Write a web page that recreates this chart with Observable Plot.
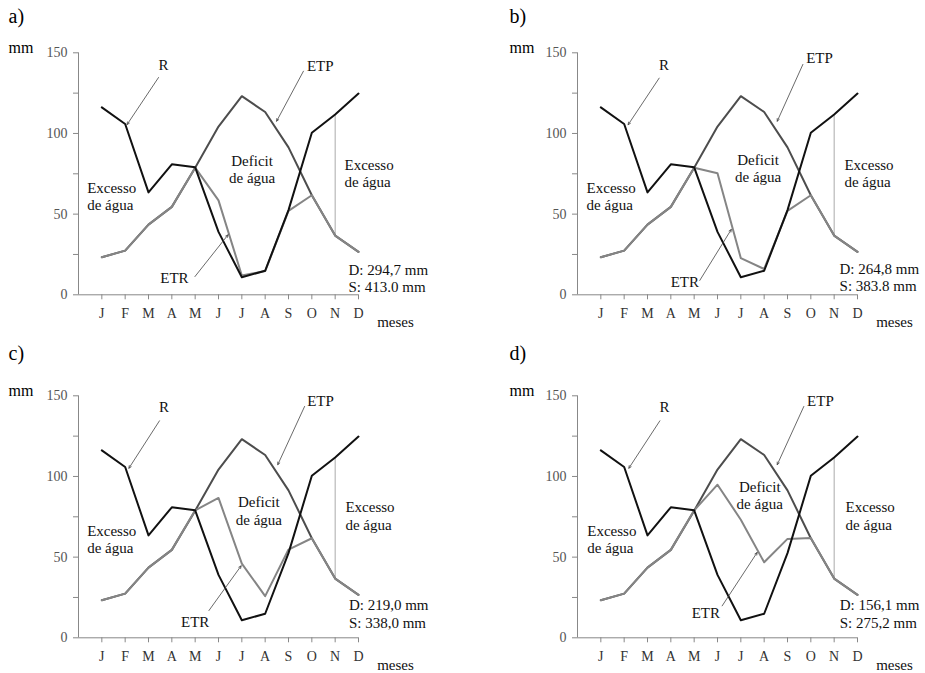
<!DOCTYPE html>
<html><head><meta charset="utf-8">
<script src="https://cdn.jsdelivr.net/npm/d3@7"></script>
<script src="https://cdn.jsdelivr.net/npm/@observablehq/plot@0.6"></script>
<style>
html,body{margin:0;padding:0;background:#fff;overflow:hidden}
#wrap{position:relative;width:925px;height:673px;overflow:hidden;background:#fff}
.panel{position:absolute}
.panel svg{overflow:visible}
.panel svg, .panel svg text, .panel svg g, .panel svg tspan{font-family:"Liberation Serif","Times New Roman",Tinos,"DejaVu Serif",serif !important}
</style></head><body><div id="wrap"></div>
<script>
// ---- data ----
const months = ["J","F","M","A","M","J","J","A","S","O","N","D"];
const monthNum = [1,2,3,4,5,6,7,8,9,10,11,12];
const R   = [116.2, 105.9, 63.5, 80.9, 79.0, 39.0, 10.9, 14.9, 52.5, 100.4, 111.8, 124.7];
const ETP = [23.3, 27.4, 43.5, 54.5, 78.8, 104.3, 123.1, 113.3, 91.4, 61.7, 36.7, 26.6];
const ETR_a = [23.3, 27.4, 43.5, 54.5, 78.8, 58.5, 12.0, 14.7, 52.0, 61.7, 36.7, 26.6];
const ETR_b = [23.3, 27.4, 43.5, 54.5, 78.8, 75.4, 22.7, 16.0, 52.0, 61.7, 36.7, 26.6];
const ETR_c = [23.3, 27.4, 43.5, 54.5, 79.0, 86.7, 46.0, 25.8, 54.7, 61.7, 36.7, 26.6];
const ETR_d = [23.3, 27.4, 43.5, 54.5, 79.0, 94.9, 73.2, 46.8, 61.3, 61.9, 36.7, 26.6];
const panelLetters = ["a)", "b)", "c)", "d)"];
const deficitTexts = ["D: 294,7 mm", "D: 264,8 mm", "D: 219,0 mm", "D: 156,1 mm"];
const surplusTexts = ["S: 413.0 mm", "S: 383.8 mm", "S: 338,0 mm", "S: 275,2 mm"];
const yTicks = [0, 25, 50, 75, 100, 125, 150];
const yLabelTicks = [0, 50, 100, 150];
const excessMonth = 11;

// ---- layout (annotation anchors in data units) ----
const panels = [
  {etr: ETR_a, left: 0,   top: 0,   width: 499, letterX: -3.0, letterY: 168.5,
   rL: [3.64,139.5], rA: [3.43,134.7,2.08,105.5], pL: [10.36,138.6], pA: [9.64,138.6,8.49,107.6],
   eL: [4.11,7.4], eA: [4.99,11.3,6.41,37.2], dL: [7.44,69.2], xl: [0.37,52.3], xr: [11.4,66.7], ds: [11.57,1.6]},
  {etr: ETR_b, left: 499, top: 0,   width: 426, letterX: -2.91, letterY: 168.6,
   rL: [3.71,139.5], rA: [3.5,134.3,2.17,105.4], pL: [10.37,143.6], pA: [9.66,142.8,8.56,107.6],
   eL: [4.6,5.1], eA: [5.24,8.9,6.59,40.5], dL: [7.74,69.8], xl: [0.39,52.3], xr: [11.44,66.7], ds: [11.23,2.2]},
  {etr: ETR_c, left: 0,   top: 343, width: 499, letterX: -3.0, letterY: 172.3,
   rL: [3.66,139.7], rA: [3.47,134.5,2.16,105.1], pL: [10.37,143.8], pA: [9.69,143.4,8.54,107.3],
   eL: [5.0,6.6], eA: [5.59,16.9,6.97,44.6], dL: [7.73,70.1], xl: [0.37,52.5], xr: [11.44,67], ds: [11.59,6.0]},
  {etr: ETR_d, left: 499, top: 343, width: 426, letterX: -2.91, letterY: 172.3,
   rL: [3.73,139.7], rA: [3.53,134.5,2.2,105.1], pL: [10.41,143.8], pA: [9.7,143.4,8.56,107.3],
   eL: [5.5,12.2], eA: [6.2,19.8,7.7,52.9], dL: [7.81,79.7], xl: [0.42,52.5], xr: [11.49,67], ds: [11.24,6.0]}
];

const wrap = document.getElementById("wrap");
const FONT = "'Liberation Serif','Times New Roman',Tinos,'DejaVu Serif',serif";

panels.forEach((p, k) => {
  const txt = (pos, text, extra = {}) => Plot.text([0], {
    x: () => pos[0], y: () => pos[1], text: () => text, fontFamily: FONT,
    lineAnchor: "bottom", textAnchor: "middle", fontSize: 15, fill: "#111", lineHeight: 1.15, ...extra
  });
  const arr = (a) => Plot.arrow([0], {
    x1: () => a[0], y1: () => a[1], x2: () => a[2], y2: () => a[3],
    stroke: "#444", strokeWidth: 0.8, headLength: 5, headAngle: 50
  });
  const iN = excessMonth - 1;
  const chart = Plot.plot({
    width: p.width,
    height: 343,
    marginLeft: 78,
    marginRight: p.width - 358,
    marginTop: 52.3,
    marginBottom: 343 - 294.3,
    x: {domain: [0, 12], axis: null},
    y: {domain: [0, 150], axis: null},
    style: {fontFamily: FONT, fontSize: "15px", background: "transparent", overflow: "visible"},
    marks: [
      Plot.ruleX([0], {y1: 0, y2: 150, stroke: "#888", strokeWidth: 1}),
      Plot.ruleY([0], {x1: 0, x2: 12, stroke: "#888", strokeWidth: 1}),
      Plot.axisY(yTicks, {anchor: "left", tickSize: 5, tickPadding: 6, stroke: "#888", fill: "#555",
        fontSize: 14, fontFamily: FONT, label: null, tickFormat: d => yLabelTicks.includes(d) ? String(d) : ""}),
      Plot.axisX(monthNum, {anchor: "bottom", tickSize: 5, tickPadding: 8, stroke: "#888", fill: "#333",
        fontSize: 14, fontFamily: FONT, label: null, tickFormat: d => months[d - 1]}),
      Plot.ruleX([monthNum[iN]], {y1: [R[iN]], y2: [ETP[iN]], stroke: "#aaa", strokeWidth: 1}),
      Plot.lineY(ETP, {x: monthNum, stroke: "#4d4d4d", strokeWidth: 2}),
      Plot.lineY(p.etr, {x: monthNum, stroke: "#858585", strokeWidth: 2}),
      Plot.lineY(R, {x: monthNum, stroke: "#111", strokeWidth: 2}),
      arr(p.rA), arr(p.pA), arr(p.eA),
      txt(p.rL, "R"),
      txt(p.pL, "ETP"),
      txt(p.eL, "ETR"),
      txt(p.dL, "Deficit\nde água"),
      txt(p.xl, "Excesso\nde água", {textAnchor: "start"}),
      txt(p.xr, "Excesso\nde água", {textAnchor: "start"}),
      txt(p.ds, deficitTexts[k] + "\n" + surplusTexts[k], {textAnchor: "start", lineHeight: 1.18}),
      txt([12.8, -19.7], "meses", {textAnchor: "start"}),
      txt([p.letterX, 150], "mm", {textAnchor: "start", fontSize: 16, fill: "#000"}),
      txt([p.letterX, p.letterY], panelLetters[k], {textAnchor: "start", fontSize: 20, fill: "#000"})
    ]
  });
  const div = document.createElement("div");
  div.className = "panel";
  div.style.left = p.left + "px";
  div.style.top = p.top + "px";
  div.appendChild(chart);
  wrap.appendChild(div);
});
</script></body></html>
